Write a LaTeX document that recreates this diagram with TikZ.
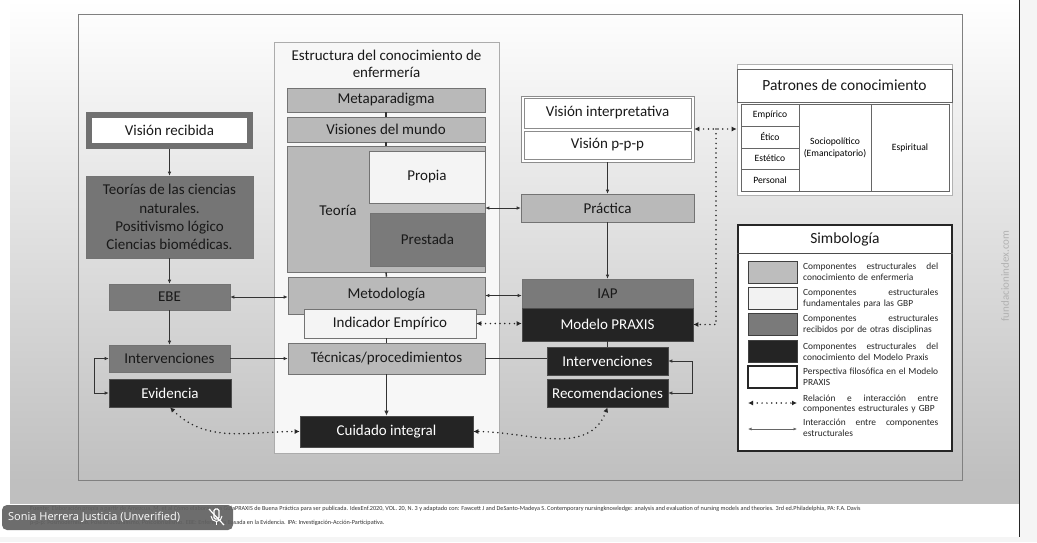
\documentclass[tikz,border=0pt]{standalone}
\usepackage{fontspec}
\setmainfont{Carlito}
\newfontfamily\badgefont{Open Sans}
\usetikzlibrary{arrows.meta,calc}
\newcommand{\jline}[1]{\hbox to 135pt{#1}}
\begin{document}
\begin{tikzpicture}[x=1pt,y=-1pt,
  box/.style={draw=black!55, line width=0.6pt, inner sep=0pt, align=center,
    font=\fontsize{15}{18}\selectfont, text=black!90},
  struct/.style={box, fill=gray!55},
  lightbox/.style={box, fill=gray!9},
  recv/.style={box, fill=black!52},
  darkbox/.style={box, fill=black!86, text=white, draw=black!70},
  wbox/.style={box, fill=white, draw=black!45},
  cell/.style={draw=black!60, line width=0.5pt, fill=white, inner sep=0pt, align=center,
    font=\fontsize{9.6}{12}\selectfont},
  conn/.style={draw=black!80, line width=0.7pt},
  tip/.style={-{Latex[length=4pt,width=3.5pt]}},
  tips/.style={{Latex[length=4pt,width=3.5pt]}-{Latex[length=4pt,width=3.5pt]}},
  dots/.style={draw=black!85, line width=1.7pt, line cap=round, dash pattern=on 0pt off 4.8pt},
  dtips/.style={{Latex[length=5pt,width=5pt]}-{Latex[length=5pt,width=5pt]}},
  dtip/.style={-{Latex[length=5pt,width=5pt]}},
  legtxt/.style={anchor=west, inner sep=0pt, text width=145pt, align=left,
    font=\fontsize{9.4}{10.6}\selectfont, text=black!85},
  swatch/.style={draw=black!75, line width=0.6pt, minimum width=49pt, minimum height=22pt, inner sep=0pt}
]
\useasboundingbox (0,0) rectangle (1037,542);
% background
\fill[white] (0,0) rectangle (1037,542);
\shade[top color=white, bottom color=gray!50] (10,0) rectangle (1019,480);
\fill[gray!50] (10,480) rectangle (1019,504);
\fill[gray!8] (1019,0) rectangle (1037,542);
\fill[gray!8] (0,537) rectangle (1019,542);
\draw[black!85, line width=1pt] (1019,0) -- (1019,537);
\draw[black!50, line width=0.6pt] (78,14) rectangle (962,480);

% watermark
\node[rotate=90, text=gray!60, font=\fontsize{11}{13}\selectfont] (wm) at (1005,276) {fundacionindex.com};

% center structure box
\node[draw=gray!65, line width=0.6pt, fill=gray!6, minimum width=225pt, minimum height=411pt, inner sep=0pt] (est) at (386.5,247.5) {};
\node[align=center, font=\fontsize{15}{17.5}\selectfont, text=black!90] (esttitle) at (386.5,64) {Estructura del conocimiento de\\enfermería};
\node[struct, minimum width=198pt, minimum height=24pt] (meta) at (386,100) {Metaparadigma};
\node[struct, minimum width=198pt, minimum height=25pt] (vm) at (386,129.5) {Visiones del mundo};
\node[struct, minimum width=198pt, minimum height=126pt] (teo) at (386,209) {};
\node[lightbox, minimum width=116pt, minimum height=52pt] (prop) at (427,177) {Propia};
\node[recv, minimum width=115pt, minimum height=53pt] (pres) at (427.5,239.5) {Prestada};
\node[font=\fontsize{15}{18}\selectfont, text=black!90] (teolbl) at (338,210) {Teoría};
\node[struct, minimum width=197pt, minimum height=37pt] (met) at (386.5,295.5) {};
\node[font=\fontsize{15}{18}\selectfont, text=black!90] (metlbl) at (386.5,294.5) {Metodología};
\node[lightbox, minimum width=172pt, minimum height=29pt] (ie) at (390,323.5) {Indicador Empírico};
\node[struct, minimum width=197pt, minimum height=31pt] (tec) at (386.5,358.5) {Técnicas/procedimientos};
\node[darkbox, minimum width=173pt, minimum height=31pt] (ci) at (386.5,431.5) {Cuidado integral};

% left column
\node[box, fill=white, draw=black!56, line width=6pt, minimum width=161pt, minimum height=31pt] (vr) at (169.5,130.5) {Visión recibida};
\node[recv, fill=black!54, minimum width=167pt, minimum height=82pt, font=\fontsize{15}{18.3}\selectfont] (th) at (169.5,217) {Teorías de las ciencias\\naturales.\\Positivismo lógico\\Ciencias biomédicas.};
\node[recv, minimum width=121pt, minimum height=26pt] (ebe) at (169.5,297) {EBE};
\node[recv, minimum width=121pt, minimum height=27pt] (il) at (169.5,358.5) {Intervenciones};
\node[darkbox, minimum width=122pt, minimum height=28pt] (ev) at (170,393) {Evidencia};

% right column
\node[wbox, minimum width=173pt, minimum height=66pt] (vis) at (607.5,129) {};
\node[wbox, minimum width=167pt, minimum height=30pt] (vi) at (607.5,113) {Visión interpretativa};
\node[wbox, minimum width=167pt, minimum height=28pt] (vp) at (607.5,145) {Visión p-p-p};
\node[struct, minimum width=173pt, minimum height=28pt] (pra) at (607.5,208) {Práctica};
\node[recv, minimum width=171pt, minimum height=29pt] (iap) at (607.5,293.5) {IAP};
\node[darkbox, minimum width=171pt, minimum height=33pt] (mp) at (607.5,324.5) {Modelo PRAXIS};
\node[darkbox, minimum width=121pt, minimum height=28pt] (ir) at (607.5,361) {Intervenciones};
\node[darkbox, minimum width=121pt, minimum height=28pt] (rec) at (607.5,393) {Recomendaciones};

% Patrones de conocimiento
\node[draw=gray!60, line width=0.6pt, fill=white, minimum width=215pt, minimum height=131pt, inner sep=0pt] (pat) at (844.5,129.5) {};
\node[draw=black!60, line width=0.5pt, fill=white, minimum width=215pt, minimum height=33pt, inner sep=0pt, font=\fontsize{15.5}{18}\selectfont, text=black!90] (pattitle) at (844.5,85.5) {Patrones de conocimiento};
\node[cell, minimum width=58pt, minimum height=22pt] (emp) at (770,115) {Empírico};
\node[cell, minimum width=58pt, minimum height=22pt] (eti) at (770,137) {Ético};
\node[cell, minimum width=58pt, minimum height=21pt] (este) at (770,158.5) {Estético};
\node[cell, minimum width=58pt, minimum height=22pt] (pers) at (770,180) {Personal};
\node[cell, minimum width=72pt, minimum height=87pt] (soc) at (835,147.5) {Sociopolítico\\(Emancipatorio)};
\node[cell, minimum width=78pt, minimum height=87pt] (esp) at (910,147.5) {Espiritual};

% Simbologia
\node[draw=black!85, line width=1.3pt, fill=white, minimum width=214pt, minimum height=226pt, inner sep=0pt] (sim) at (845,338) {};
\node[font=\fontsize{15.5}{18}\selectfont, text=black!90] (simtitle) at (845,239) {Simbología};
\draw[black!70, line width=0.5pt] (sim.west |- 0,253) -- (sim.east |- 0,253);
\node[swatch, fill=gray!52] (s1) at (772.5,272) {};
\node[swatch, fill=gray!10] (s2) at (772.5,298.5) {};
\node[swatch, fill=black!52] (s3) at (772.5,324.5) {};
\node[swatch, fill=black!86] (s4) at (772.5,351.5) {};
\node[swatch, fill=white, draw=black!85, line width=1.2pt] (s5) at (772.5,377) {};
\node[legtxt] (t1) at (803,272) {\jline{Componentes\hfill estructurales\hfill del}\\\mbox{conocimiento de enfermeria}};
\node[legtxt] (t2) at (803,298.5) {\jline{Componentes\hfill estructurales}\\\mbox{fundamentales para las GBP}};
\node[legtxt] (t3) at (803,324.5) {\jline{Componentes\hfill estructurales}\\\mbox{recibidos por de otras disciplinas}};
\node[legtxt] (t4) at (803,351.5) {\jline{Componentes\hfill estructurales\hfill del}\\\mbox{conocimiento del Modelo Praxis}};
\node[legtxt] (t5) at (803,377) {\jline{Perspectiva\hfill filosófica\hfill en\hfill el\hfill Modelo}\\\mbox{PRAXIS}};
\node[legtxt] (t6) at (803,404) {\jline{Relación\hfill e\hfill interacción\hfill entre}\\\mbox{componentes estructurales y GBP}};
\node[legtxt] (t7) at (803,428) {\jline{Interacción\hfill entre\hfill componentes}\\\mbox{estructurales}};
\coordinate (la1) at (748,403);
\coordinate (la2) at (797,403);
\coordinate (lb1) at (748,429);
\coordinate (lb2) at (797,429);
\draw[dots, dtips] (la1) -- (la2);
\draw[draw=black!60, line width=0.6pt, {Latex[length=3.5pt,width=3pt]}-{Latex[length=3.5pt,width=3pt]}] (lb1) -- (lb2);

% connectors
\draw[conn, tip] (vr.south) -- (th.north);
\draw[conn, tip] (th.south) -- (ebe.north);
\draw[conn, tip] (ebe.south) -- (il.north);
\draw[conn, tips] (ebe.east) -- (ebe.east -| met.west);
\draw[conn, tip] (il.east) -- (il.east -| tec.west);
\draw[conn, tips] (ev.west) -- ++(-14,0) |- (il.west);
\draw[conn, line width=1.4pt] (meta.south) -- (vm.north);
\draw[conn, line width=1.4pt] (vm.south) -- (teo.north);
\draw[conn, line width=1.4pt] (teo.south) -- (met.north);
\draw[conn, line width=1.4pt] (ie.south -| tec.north) -- (tec.north);
\draw[conn, line width=1.3pt, -{Latex[length=5pt,width=4.5pt]}] (tec.south) -- (ci.north);
\draw[conn, tips] (pra.west) -- (pra.west -| teo.east);
\draw[conn, tip] (vis.south) -- (pra.north);
\draw[conn, tip] (pra.south) -- (iap.north);
\draw[conn, tips] (met.east) -- (met.east -| iap.west);
\draw[conn] (tec.east) -- (tec.east -| ir.west);
\draw[conn, line width=1.2pt] (mp.south) -- (ir.north);
\draw[conn, tips] (ir.east) -- ++(24,0) |- (rec.east);
% dotted relations
\draw[dots, dtips] (ie.east) -- (ie.east -| mp.west);
\draw[dots, dtips] (vis.east) -- (vis.east -| pat.west);
\coordinate (j) at (716,129);
\draw[dots, dtip] (j) |- (mp.east);
\draw[dots, dtips] (ev.south) to[out=-45, in=180] (ci.west);
\draw[dots, dtips] (rec.south) to[out=-110, in=0] (ci.east);

% footer
\node[anchor=west, inner sep=0pt, font=\fontsize{6.2}{7}\selectfont, text=black!80] (f1) at (30,509) {\textbf{Fuente:} Elaboración propia a partir de Amezcua, M. et al Cómo elaborar una GuíaPRAXIS de Buena Práctica para ser publicada. IdexEnf.2020, VOL. 20, N. 3 y adaptado con: Fawcett J and DeSanto-Madeya S. Contemporary nursingknowledge: analysis and evaluation of nursing models and theories. 3rd ed.Philadelphia, PA: F.A. Davis};
\node[anchor=west, inner sep=0pt, font=\fontsize{6.2}{7}\selectfont, text=black!80] (f2) at (30,523) {p-p-p: Posmodernismo, Posestructuralismo, Poscolonialismo. EBE: Enfermería Basada en la Evidencia. IPA: Investigación-Acción-Participativa.};

% overlay badge
\fill[black!62, opacity=0.92, rounded corners=5pt] (2,505) rectangle (233,530);
\node[anchor=west, inner sep=0pt, text=white, font=\badgefont\fontsize{11}{13}\selectfont] (badge) at (8,517.5) {Sonia Herrera Justicia (Unverified)};
\draw[white, line width=1.2pt, rounded corners=1.5pt] (214,509) rectangle (219,519);
\draw[white, line width=1pt] (211,516) arc[start angle=180, end angle=360, radius=5.5pt];
\draw[white, line width=1pt] (216.5,521.5) -- (216.5,525);
\draw[white, line width=1.2pt] (209,509) -- (224,525);
\end{tikzpicture}
\end{document}
